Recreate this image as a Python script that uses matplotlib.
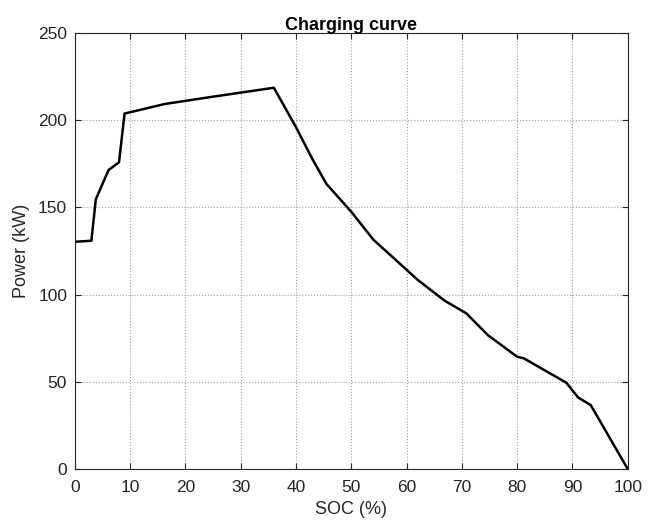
import matplotlib.pyplot as plt

plt.rcParams['font.family'] = ['Liberation Sans', 'DejaVu Sans']

# charging curve
soc = [0, 3.0, 3.8, 6.1, 8.0, 9.0, 16.3, 24, 36.0, 40.0, 43.0,
       45.5, 50.0, 54.0, 58.0, 62.0, 66.9, 70.8, 74.7, 80.0, 81.2, 88.9,
       91.0, 93.3, 100]
power = [130.3, 130.9, 154.6, 171.4, 175.9, 203.8, 209.3, 213.0, 218.6,
         196.0, 177.5, 163.5, 147.5, 131.5, 120.0, 108.5, 96.5, 89.3,
         76.8, 64.4, 63.5, 49.5, 41.1, 36.7, 0]

xticks = list(range(0, 101, 10))
yticks = list(range(0, 251, 50))

fig = plt.figure(figsize=(6.56, 5.23), dpi=100)
ax = fig.add_axes([0.114, 0.103, 0.843, 0.834])

ax.plot(soc, power, color='black', lw=1.8)

ax.set_xlim(0, 100)
ax.set_ylim(0, 250)
ax.set_xticks(xticks)
ax.set_yticks(yticks)
ax.grid(True, linestyle=':', color='#a0a0a0', lw=0.8)
ax.tick_params(direction='in', top=True, right=True, labelsize=12.5,
               labelcolor='#262626', length=4, width=0.8, colors='#262626')
ax.tick_params(axis='x', pad=8)
ax.tick_params(axis='y', pad=5.5)
for s in ax.spines.values():
    s.set_color('#262626')
    s.set_linewidth(0.8)

ax.set_xlabel('SOC (%)', fontsize=13, color='#262626', labelpad=4)
ax.set_ylabel('Power (kW)', fontsize=13, color='#262626', labelpad=6)
ax.set_title('Charging curve', fontsize=13, fontweight='bold', pad=2)

fig.savefig('out.png', dpi=100)
